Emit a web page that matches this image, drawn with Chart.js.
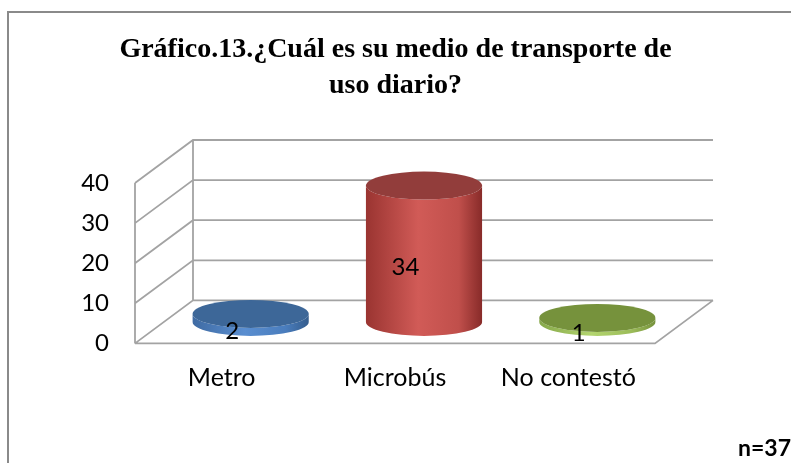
<!DOCTYPE html>
<html>
<head>
<meta charset="utf-8">
<script src="https://cdn.jsdelivr.net/npm/chart.js@4/dist/chart.umd.min.js"></script>
<style>
    html, body { margin: 0; padding: 0; background: #fff; }
    #wrap { position: relative; width: 791px; height: 463px; overflow: hidden; }
    #frame { position: absolute; left: 7px; top: 11px; width: 900px; height: 600px;
             border-left: 2px solid #8a8a8a; border-top: 2px solid #8a8a8a; }
    #chart { position: absolute; left: 0; top: 0; }
</style>
</head>
<body>
<div id="wrap">
    <div id="frame"></div>
    <canvas id="chart" width="791" height="463"></canvas>
</div>
<script>
var categories = ["Metro", "Microbús", "No contestó"];
var responses = [2, 34, 1];
var yTickValues = [0, 10, 20, 30, 40];
var titleLines = ["Gráfico.13.¿Cuál es su medio de transporte de", "uso diario?"];
var sampleNote = "n=37";

// 3D look: depth offset of the back wall, ellipse height of the cylinders
var DX = 58, DY = -43, RY = 14;
var sideStops = [
    ['#3f6ba3', '#5a8ed0', '#4a7dbd', '#355d8d'],
    ['#9a3431', '#d15b57', '#c04f4b', '#882b29'],
    ['#86a84a', '#b3d56f', '#9bbb59', '#76923c']
];
var topColors = ['#3d6798', '#923d3b', '#76923c'];

var walls3d = {
    id: 'walls3d',
    beforeDatasetsDraw: function (chart) {
        var ctx = chart.ctx, a = chart.chartArea, y = chart.scales.y;
        ctx.save();
        ctx.strokeStyle = '#a3a3a3';
        ctx.lineWidth = 1.8;
        ctx.beginPath();
        yTickValues.forEach(function (v) {
            var py = y.getPixelForValue(v);
            ctx.moveTo(a.left, py);
            ctx.lineTo(a.left + DX, py + DY);
            ctx.lineTo(a.right + DX, py + DY);
        });
        ctx.moveTo(a.left, a.top);
        ctx.lineTo(a.left, a.bottom);
        ctx.moveTo(a.left + DX, a.top + DY);
        ctx.lineTo(a.left + DX, a.bottom + DY);
        ctx.moveTo(a.left, a.bottom);
        ctx.lineTo(a.right, a.bottom);
        ctx.lineTo(a.right + DX, a.bottom + DY);
        ctx.stroke();
        ctx.restore();
    },
    beforeDatasetDraw: function (chart, args) {
        var ctx = chart.ctx;
        args.meta.data.forEach(function (bar, i) {
            var cx = bar.x + DX / 2, rx = bar.width / 2;
            var top = bar.y + DY / 2, base = bar.base + DY / 2;
            var g = ctx.createLinearGradient(cx - rx, 0, cx + rx, 0);
            var s = sideStops[i];
            g.addColorStop(0, s[0]);
            g.addColorStop(0.45, s[1]);
            g.addColorStop(0.8, s[2]);
            g.addColorStop(1, s[3]);
            ctx.save();
            ctx.beginPath();
            ctx.moveTo(cx - rx, top);
            ctx.lineTo(cx - rx, base);
            ctx.ellipse(cx, base, rx, RY, 0, Math.PI, 0, true);
            ctx.lineTo(cx + rx, top);
            ctx.ellipse(cx, top, rx, RY, 0, 0, Math.PI, false);
            ctx.closePath();
            ctx.fillStyle = g;
            ctx.fill();
            ctx.beginPath();
            ctx.ellipse(cx, top, rx, RY, 0, 0, Math.PI * 2);
            ctx.fillStyle = topColors[i];
            ctx.fill();
            ctx.restore();
        });
        return false;
    },
    afterDatasetsDraw: function (chart) {
        var ctx = chart.ctx;
        var meta = chart.getDatasetMeta(0);
        ctx.save();
        ctx.fillStyle = '#000';
        ctx.font = '24px Lato';
        ctx.textAlign = 'center';
        ctx.textBaseline = 'middle';
        meta.data.forEach(function (bar, i) {
            ctx.fillText(String(responses[i]), bar.x + DX * 0.18, (bar.y + bar.base) / 2 + DY * 0.18);
        });
        ctx.restore();
    }
};

document.addEventListener("DOMContentLoaded", function () {
    var ctx = document.getElementById("chart").getContext("2d");
    var chart = new Chart(ctx, {
        type: 'bar',
        data: {
            labels: categories,
            datasets: [{
                label: 'Medio de transporte',
                data: responses,
                backgroundColor: topColors,
                borderWidth: 0,
                categoryPercentage: 1,
                barPercentage: 0.67
            }]
        },
        options: {
            responsive: false,
            devicePixelRatio: 1,
            animation: false,
            layout: { padding: 0 },
            scales: {
                x: {
                    grid: { display: false, drawTicks: false },
                    border: { display: false },
                    ticks: { color: '#000', font: { family: 'Lato', size: 25 }, padding: 20 },
                    afterFit: function (scale) { scale.height = 91; }
                },
                y: {
                    min: 0,
                    max: 40,
                    grid: { display: false, drawTicks: false },
                    border: { display: false },
                    ticks: { stepSize: 10, color: '#000', font: { family: 'Lato', size: 24 }, padding: 26 },
                    afterFit: function (scale) { scale.width = 135; }
                },
                yRight: {
                    type: 'linear',
                    position: 'right',
                    grid: { display: false, drawTicks: false },
                    border: { display: false },
                    ticks: { display: false },
                    afterFit: function (scale) { scale.width = 136; }
                }
            },
            plugins: {
                legend: { display: false },
                tooltip: { enabled: false },
                title: {
                    display: true,
                    text: titleLines,
                    color: '#000',
                    font: { family: "'Liberation Serif', 'Times New Roman', serif", size: 28, weight: 'bold', lineHeight: 36 / 28 },
                    padding: { top: 32, bottom: 79 }
                },
                subtitle: {
                    display: true,
                    position: 'bottom',
                    align: 'end',
                    text: sampleNote,
                    color: '#000',
                    font: { family: 'Lato', size: 23, weight: 'bold', lineHeight: 1.2 },
                    padding: { top: 0, bottom: 1 }
                }
            }
        },
        plugins: [walls3d]
    });
});
</script>
</body>
</html>
